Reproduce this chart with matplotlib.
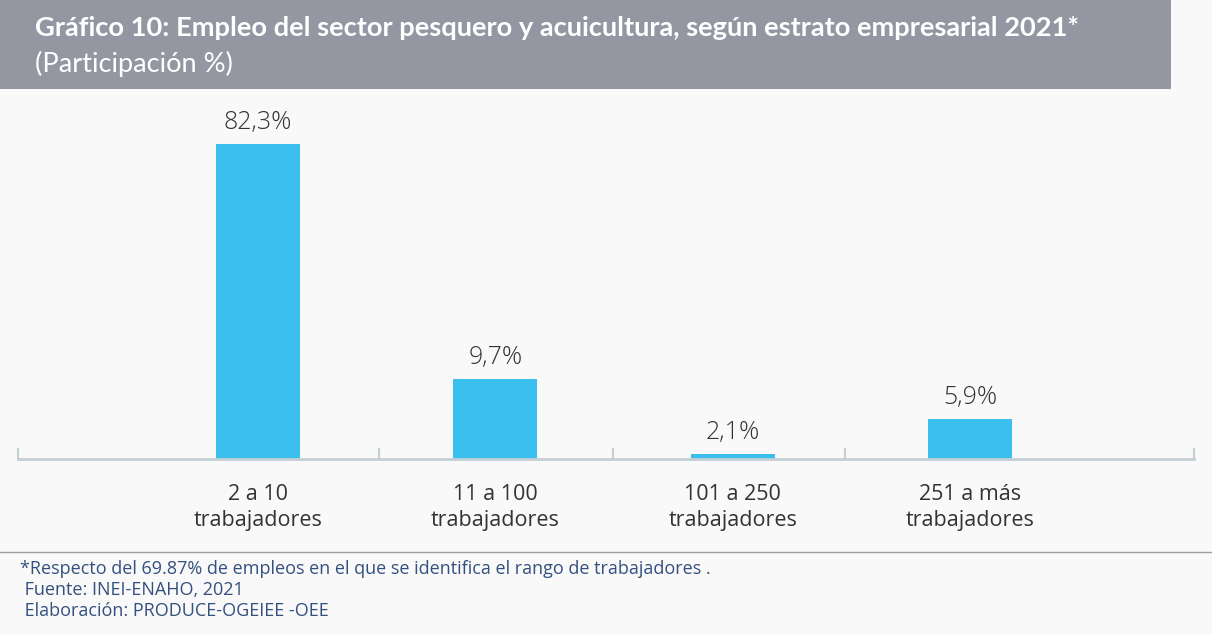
import matplotlib
matplotlib.use("Agg")
import matplotlib.pyplot as plt
from matplotlib.patches import Rectangle

# ---- data ----
categories = ["2 a 10\ntrabajadores", "11 a 100\ntrabajadores",
              "101 a 250\ntrabajadores", "251 a más\ntrabajadores"]
value_labels = ["82,3%", "9,7%", "2,1%", "5,9%"]
# bar heights as drawn in the reference (in % axis units)
bar_heights = [82.3, 20.8, 1.25, 10.3]
separators = [0.51, 1.496, 2.474]

title = "Gráfico 10: Empleo del sector pesquero y acuicultura, según estrato empresarial 2021*"
subtitle = "(Participación %)"
footnotes = ["*Respecto del 69.87% de empleos en el que se identifica el rango de trabajadores .",
             " Fuente: INEI-ENAHO, 2021",
             " Elaboración: PRODUCE-OGEIEE -OEE"]

W, H = 1212, 634
BG = "#f9f9f9"
BAR = "#3bbfef"
AXC = "#c3cfd5"

fig = plt.figure(figsize=(W / 100, H / 100), dpi=100, facecolor=BG)

# header band
fig.patches.append(Rectangle((0, 1 - 88.7 / H), 1171 / W, 88.7 / H,
                             transform=fig.transFigure, facecolor="#9497a2",
                             edgecolor="none", zorder=0))
fig.text(35 / W, 1 - 28 / H, title, color="white", fontsize=19.6,
         fontweight="bold", family="Lato", va="center", ha="left")
fig.text(35 / W, 1 - 64 / H, subtitle, color="white", fontsize=19.6,
         family="Lato", va="center", ha="left")

# axes
ax_left, ax_right = 18, 1194
ax_bottom_px, ax_top_px = 458.5, 100
ax = fig.add_axes([ax_left / W, 1 - ax_bottom_px / H,
                   (ax_right - ax_left) / W, (ax_bottom_px - ax_top_px) / H])
ax.set_facecolor(BG)
x = list(range(len(categories)))
ax.bar(x, bar_heights, width=0.354, color=BAR, zorder=2)
ax.set_xlim(-1.011, 3.944)
ax.set_ylim(0, (ax_bottom_px - ax_top_px) / 3.819)

for xi, h, lab in zip(x, bar_heights, value_labels):
    ax.annotate(lab, (xi, h), xytext=(0, 15.5), textcoords="offset points",
                ha="center", va="center", fontsize=18, color="#333333",
                family="Open Sans", fontweight="light")

for s in ["top", "right", "left"]:
    ax.spines[s].set_visible(False)
ax.spines["bottom"].set_color(AXC)
ax.spines["bottom"].set_linewidth(2)
ax.set_yticks([])
ax.set_xticks(x)
ax.set_xticklabels(categories, fontsize=15.5, color="#333333",
                   family="Open Sans", linespacing=1.3)
ax.tick_params(axis="x", which="major", length=0, pad=18.5)
ax.set_xticks(separators + [-1.009, 3.942], minor=True)
ax.tick_params(axis="x", which="minor", direction="in", length=8,
               width=1.5, color=AXC)

# footer
fig.add_artist(plt.Line2D([0, 1], [1 - 552 / H, 1 - 552 / H],
                          transform=fig.transFigure, color="#9e9e9e", lw=1))
fc = "#34507f"
for i, t in enumerate(footnotes):
    fig.text(20 / W, 1 - (569 + 21 * i) / H, t, fontsize=13, color=fc,
             family="Open Sans", va="center", ha="left")

fig.savefig("out.png", dpi=100, facecolor=BG)
